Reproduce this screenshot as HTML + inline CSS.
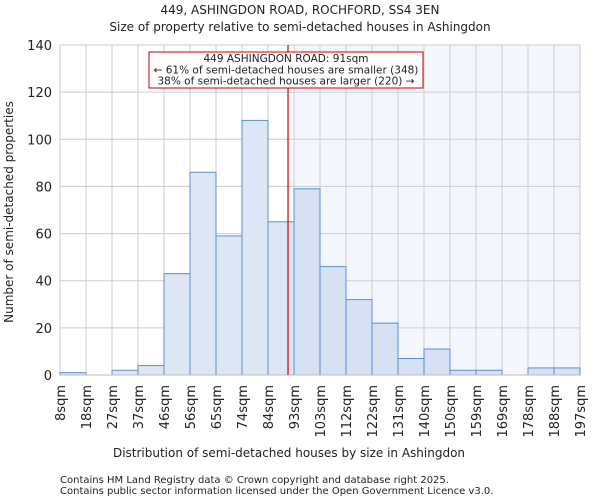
<!DOCTYPE html>
<html><head><meta charset="utf-8"><style>
body{margin:0;background:#fff;font-family:"DejaVu Sans","Liberation Sans",sans-serif;}
svg text{font-family:"DejaVu Sans","Liberation Sans",sans-serif;fill:#222;}
</style></head><body>
<svg id="c" width="600" height="500">
<text x="300" y="14" text-anchor="middle" font-size="12">449, ASHINGDON ROAD, ROCHFORD, SS4 3EN</text>
<text x="300" y="31" text-anchor="middle" font-size="12">Size of property relative to semi-detached houses in Ashingdon</text>
<g id="plot"></g>
<text x="289" y="457" text-anchor="middle" font-size="12">Distribution of semi-detached houses by size in Ashingdon</text>
<text transform="translate(13,212) rotate(-90)" text-anchor="middle" font-size="12">Number of semi-detached properties</text>
<text x="60" y="483" font-size="10">Contains HM Land Registry data © Crown copyright and database right 2025.</text>
<text x="60" y="494" font-size="10">Contains public sector information licensed under the Open Government Licence v3.0.</text>
</svg>
<script>
const categories=["8sqm","18sqm","27sqm","37sqm","46sqm","56sqm","65sqm","74sqm","84sqm","93sqm","103sqm","112sqm","122sqm","131sqm","140sqm","150sqm","159sqm","169sqm","178sqm","188sqm","197sqm"];
const counts=[1,0,2,4,43,86,59,108,65,79,46,32,22,7,11,2,2,0,3,3];
const yTicks=[0,20,40,60,80,100,120,140];
const markerBin=8.77;
const NS="http://www.w3.org/2000/svg";
const L=60,R=580,T=45,B=375,yMax=140;
const bw=(R-L)/counts.length;
const xs=i=>L+i*bw;
const ys=v=>B-v/yMax*(B-T);
const g=document.getElementById('plot');
function mk(t,a){const e=document.createElementNS(NS,t);for(const k in a)e.setAttribute(k,a[k]);g.appendChild(e);return e;}
const mx=xs(markerBin);
const shadeStart=xs(Math.ceil(markerBin));
let e=mk('rect',{x:shadeStart,y:T,width:R-shadeStart,height:B-T,fill:'#f3f6fd'});


yTicks.forEach(v=>{
 const l=mk('line',{x1:L,x2:R,y1:ys(v),y2:ys(v),stroke:'#ccc','stroke-width':1});
 
 
 const t=mk('text',{x:L-8,y:ys(v)+5,'text-anchor':'end','font-size':13});
 t.textContent=v;
 
 
});
categories.forEach((c,i)=>{
 const l=mk('line',{x1:xs(i),x2:xs(i),y1:T,y2:B,stroke:'#ccc','stroke-width':1});
 
 
 const x=xs(i)+5,y=B+10;
 const t=mk('text',{x:x,y:y,'text-anchor':'end','font-size':13,transform:`rotate(-90 ${x} ${y})`});
 t.textContent=c;
 
 
});
counts.forEach((v,i)=>{
 const r=mk('rect',{x:xs(i),y:ys(v),width:bw,height:B-ys(v),fill:i>=Math.ceil(markerBin)?'#d6e1f3':'#dde6f4',stroke:'#5b8dd6','stroke-width':1});
 
 
});
const ax=mk('line',{x1:L,x2:R,y1:B,y2:B,stroke:'#bbb'});


const ml=mk('line',{x1:mx,x2:mx,y1:T,y2:B,stroke:'#cc0000','stroke-width':1.2});


const box=mk('rect',{x:149,y:52,width:274,height:36,fill:'#fff',stroke:'#cc0000','stroke-width':1});


["449 ASHINGDON ROAD: 91sqm","← 61% of semi-detached houses are smaller (348)","38% of semi-detached houses are larger (220) →"].forEach((s,i)=>{
 const t=mk('text',{x:286,y:62+i*11.3,'text-anchor':'middle','font-size':10.5});
 t.textContent=s;
 
 
});
</script>
</body></html>
